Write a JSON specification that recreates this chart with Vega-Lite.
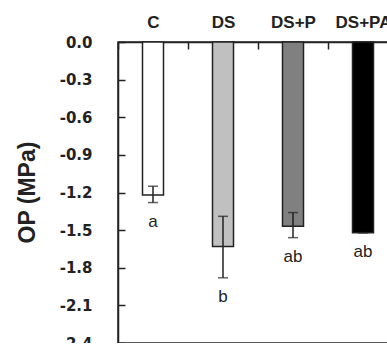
{
  "$schema": "https://vega.github.io/schema/vega-lite/v6.json",
  "autosize": "none",
  "padding": {"left": 118, "top": 42, "right": 0, "bottom": 0},
  "width": 280,
  "height": 301,
  "background": "white",
  "config": {
    "view": {"stroke": "#222", "strokeWidth": 1.5},
    "axis": {"domainColor": "#222", "domainWidth": 1.5, "tickColor": "#222", "tickWidth": 1.5, "grid": false, "labelColor": "#222", "titleColor": "#222"},
    "axisY": {
      "labelOverlap": false, "tickSize": -7, "labelPadding": 33,
      "labelFont": "DejaVu Sans", "labelFontWeight": "bold", "labelFontSize": 15,
      "titleFont": "Liberation Sans", "titleFontWeight": "bold", "titleFontSize": 23,
      "titleX": -91, "titleY": 150, "titleAngle": 270, "titleAlign": "center", "titleBaseline": "middle"
    }
  },
  "data": {
    "values": [
      {"trt": "C", "mean": -1.22, "lo": -1.28, "hi": -1.15, "grp": "a"},
      {"trt": "DS", "mean": -1.63, "lo": -1.88, "hi": -1.39, "grp": "b"},
      {"trt": "DS+P", "mean": -1.47, "lo": -1.56, "hi": -1.36, "grp": "ab"},
      {"trt": "DS+PA", "mean": -1.52, "lo": -1.52, "hi": -1.52, "grp": "ab"}
    ]
  },
  "encoding": {
    "x": {
      "field": "trt", "type": "nominal", "sort": null,
      "scale": {"paddingInner": 0, "paddingOuter": 0},
      "axis": {
        "orient": "top", "title": null, "labelAngle": 0,
        "tickBand": "extent", "tickSize": -7, "labelPadding": 18,
        "labelFont": "Liberation Sans", "labelFontWeight": "bold", "labelFontSize": 17
      }
    }
  },
  "layer": [
    {
      "mark": {"type": "bar", "width": 21, "stroke": "#222", "strokeWidth": 1.5},
      "encoding": {
        "y": {
          "field": "mean", "type": "quantitative", "title": "OP (MPa)",
          "scale": {"domain": [-2.4, 0], "nice": false},
          "axis": {
            "values": [0, -0.3, -0.6, -0.9, -1.2, -1.5, -1.8, -2.1, -2.4],
            "labelExpr": "replace(format(datum.value, '.1f'), '\u2212', '-')"
          }
        },
        "fill": {
          "field": "trt", "type": "nominal", "sort": null,
          "scale": {"domain": ["C", "DS", "DS+P", "DS+PA"], "range": ["#ffffff", "#c0c0c0", "#808080", "#000000"]},
          "legend": null
        }
      }
    },
    {
      "mark": {"type": "errorbar", "ticks": {"size": 10, "thickness": 1.5, "color": "#222"}, "rule": {"strokeWidth": 1.5, "color": "#222"}},
      "encoding": {
        "y": {
          "field": "lo", "type": "quantitative", "title": "OP (MPa)",
          "axis": {
            "values": [0, -0.3, -0.6, -0.9, -1.2, -1.5, -1.8, -2.1, -2.4],
            "labelExpr": "replace(format(datum.value, '.1f'), '\u2212', '-')"
          }
        },
        "y2": {"field": "hi"}
      }
    },
    {
      "mark": {"type": "text", "baseline": "middle", "dy": 19, "font": "Liberation Sans", "fontSize": 17, "color": "#222"},
      "encoding": {
        "y": {
          "field": "lo", "type": "quantitative", "title": "OP (MPa)",
          "axis": {
            "values": [0, -0.3, -0.6, -0.9, -1.2, -1.5, -1.8, -2.1, -2.4],
            "labelExpr": "replace(format(datum.value, '.1f'), '\u2212', '-')"
          }
        },
        "text": {"field": "grp"}
      }
    }
  ]
}
